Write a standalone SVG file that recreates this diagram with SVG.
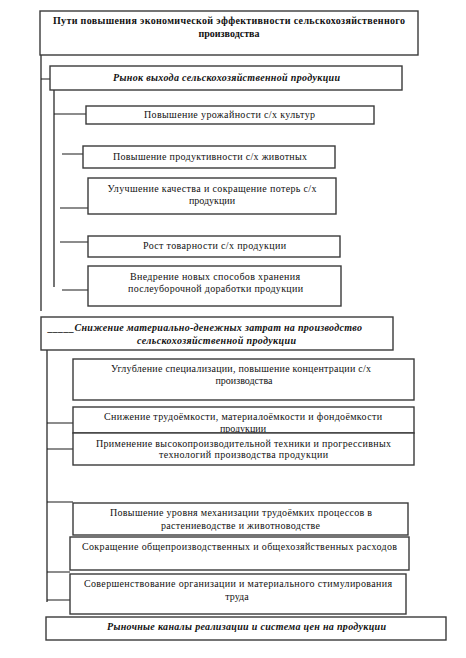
<svg xmlns="http://www.w3.org/2000/svg" width="466" height="658" viewBox="0 0 466 658">
<style>
.b{fill:#fff;stroke:#3a3a3a;stroke-width:1.4}
.c{stroke:#1a1a1a;stroke-width:1.2;fill:none}
text{font-family:"Liberation Serif","Times New Roman",serif;font-size:10px;fill:#111;text-anchor:middle}
.h{font-weight:bold}
.hi{font-weight:bold;font-style:italic}
</style>
<rect width="466" height="658" fill="#fff"/>
<g id="connectors">
<path class="c" d="M41 55V311M41 79H50M54 90V287M54 114H86M62 154H83M60 208H88M60 242H88M62 290H88"/>
<path class="c" d="M47 343V602M47 423H73M47 449H73M47 502H73M47 572H70M47 600H70"/>
</g>
<g id="n0"><rect class="b" x="40" y="11" width="378" height="44" stroke="#111"/>
<text class="h" x="229" y="24" textLength="352" lengthAdjust="spacing">Пути повышения экономической эффективности сельскохозяйственного</text>
<text class="h" x="229" y="37">производства</text></g>
<g id="n1"><rect class="b" x="50" y="66" width="352" height="24"/>
<text class="hi" x="226.5" y="81" textLength="227" lengthAdjust="spacing">Рынок выхода сельскохозяйственной продукции</text></g>
<g id="n2"><rect class="b" x="86" y="106" width="288" height="18"/>
<text x="229.5" y="118" textLength="171" lengthAdjust="spacing">Повышение урожайности с/х культур</text></g>
<g id="n3"><rect class="b" x="83" y="146" width="252" height="22"/>
<text x="210" y="160" textLength="194" lengthAdjust="spacing">Повышение продуктивности с/х животных</text></g>
<g id="n4"><rect class="b" x="88" y="178" width="248" height="36"/>
<text x="212" y="192" textLength="209" lengthAdjust="spacing">Улучшение качества и сокращение потерь с/х</text>
<text x="212" y="204">продукции</text></g>
<g id="n5"><rect class="b" x="88" y="236" width="252" height="21"/>
<text x="214.5" y="249" textLength="143" lengthAdjust="spacing">Рост товарности с/х продукции</text></g>
<g id="n6"><rect class="b" x="88" y="266" width="253" height="40"/>
<text x="215" y="280" textLength="170" lengthAdjust="spacing">Внедрение новых способов хранения</text>
<text x="215.5" y="292" textLength="175" lengthAdjust="spacing">послеуборочной доработки продукции</text></g>
<g id="n7"><rect class="b" x="41" y="317" width="352" height="33"/>
<text class="hi" x="205" y="331" textLength="314" lengthAdjust="spacing">_____Снижение материально-денежных затрат на производство</text>
<text class="hi" x="216.5" y="344" textLength="159" lengthAdjust="spacing">сельскохозяйственной продукции</text></g>
<g id="n8"><rect class="b" x="73" y="359" width="341" height="41"/>
<text x="241" y="372" textLength="260" lengthAdjust="spacing">Углубление специализации, повышение концентрации с/х</text>
<text x="244" y="384">производства</text></g>
<g id="n9"><rect class="b" x="73" y="407" width="341" height="26"/>
<text x="243" y="420" textLength="278" lengthAdjust="spacing">Снижение трудоёмкости, материалоёмкости и фондоёмкости</text>
<text x="243" y="432">продукции</text></g>
<g id="n10"><rect class="b" x="73" y="433" width="341" height="32"/>
<text x="243.5" y="447" textLength="295" lengthAdjust="spacing">Применение высокопроизводительной техники и прогрессивных</text>
<text x="243.5" y="458" textLength="169" lengthAdjust="spacing">технологий производства продукции</text></g>
<g id="n11"><rect class="b" x="73" y="503" width="335" height="32"/>
<text x="241" y="516" textLength="262" lengthAdjust="spacing">Повышение уровня механизации трудоёмких процессов в</text>
<text x="240.5" y="529" textLength="159" lengthAdjust="spacing">растениеводстве и животноводстве</text></g>
<g id="n12"><rect class="b" x="70" y="537" width="339" height="33"/>
<text x="239.5" y="550" textLength="315" lengthAdjust="spacing">Сокращение общепроизводственных и общехозяйственных расходов</text></g>
<g id="n13"><rect class="b" x="70" y="574" width="336" height="40"/>
<text x="238" y="587" textLength="308" lengthAdjust="spacing">Совершенствование организации и материального стимулирования</text>
<text x="237" y="600">труда</text></g>
<g id="n14"><rect class="b" x="46" y="617" width="400" height="23" stroke="#111"/>
<text class="hi" x="246.5" y="630" textLength="279" lengthAdjust="spacing">Рыночные каналы реализации и система цен на продукции</text></g>
</svg>
